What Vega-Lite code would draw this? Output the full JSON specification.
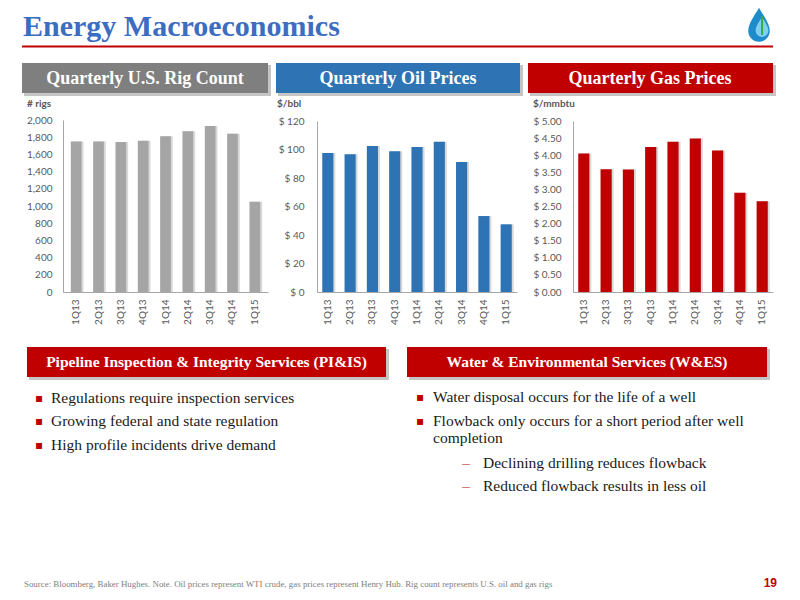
{
  "$schema": "https://vega.github.io/schema/vega-lite/v6.json",
  "width": 800,
  "height": 600,
  "autosize": {"type": "none"},
  "padding": 0,
  "background": "white",
  "config": {
    "view": {"stroke": null},
    "axis": {
      "labelFont": "Lato",
      "labelFontSize": 10,
      "labelColor": "#595959",
      "domainColor": "#A6A6A6",
      "domainWidth": 1,
      "ticks": false,
      "grid": false,
      "title": null
    }
  },
  "datasets": {
    "q": [
      {"quarter": "1Q13", "rigs": 1750, "oil": 97.5, "gas": 4.05},
      {"quarter": "2Q13", "rigs": 1750, "oil": 96.6, "gas": 3.59},
      {"quarter": "3Q13", "rigs": 1745, "oil": 102.5, "gas": 3.58},
      {"quarter": "4Q13", "rigs": 1760, "oil": 98.7, "gas": 4.24},
      {"quarter": "1Q14", "rigs": 1810, "oil": 101.8, "gas": 4.39},
      {"quarter": "2Q14", "rigs": 1870, "oil": 105.5, "gas": 4.49},
      {"quarter": "3Q14", "rigs": 1930, "oil": 91.2, "gas": 4.14},
      {"quarter": "4Q14", "rigs": 1840, "oil": 53.3, "gas": 2.90},
      {"quarter": "1Q15", "rigs": 1050, "oil": 47.5, "gas": 2.65}
    ]
  },
  "data": {"values": [{}]},
  "layer": [
    {
      "mark": {"type": "text", "font": "Liberation Serif", "fontSize": 30, "fontWeight": "bold", "fill": "#3D6DC0", "align": "left", "baseline": "alphabetic"},
      "encoding": {"x": {"value": 23}, "y": {"value": 36}, "text": {"value": "Energy Macroeconomics"}}
    },
    {
      "mark": {"type": "rule", "stroke": "#C00000", "strokeWidth": 2},
      "encoding": {"x": {"value": 22}, "x2": {"value": 773}, "y": {"value": 46.5}}
    },
    {
      "mark": {"type": "point", "shape": "M0,-1 C0.25,-0.55 0.62,-0.1 0.62,0.35 A0.62,0.62 0 1 1 -0.62,0.35 C-0.62,-0.1 -0.25,-0.55 0,-1 Z", "filled": true, "fill": "#1E8CCB", "opacity": 1, "size": 1200},
      "encoding": {"x": {"value": 759}, "y": {"value": 25}}
    },
    {
      "mark": {"type": "point", "shape": "M0,-1 C0.25,-0.55 0.62,-0.1 0.62,0.35 A0.62,0.62 0 1 1 -0.62,0.35 C-0.62,-0.1 -0.25,-0.55 0,-1 Z", "filled": true, "fill": "#7FD0EE", "opacity": 1, "size": 420},
      "encoding": {"x": {"value": 762}, "y": {"value": 27}}
    },
    {
      "mark": {"type": "rule", "stroke": "#3BAA4A", "strokeWidth": 2},
      "encoding": {"x": {"value": 762}, "y": {"value": 16}, "y2": {"value": 35}}
    },

    {"mark": {"type": "rect", "fill": "#9E9E9E", "opacity": 0.6}, "encoding": {"x": {"value": 24}, "x2": {"value": 271}, "y": {"value": 65}, "y2": {"value": 96}}},
    {"mark": {"type": "rect", "fill": "#7F7F7F"}, "encoding": {"x": {"value": 22}, "x2": {"value": 268}, "y": {"value": 63}, "y2": {"value": 93}}},
    {"mark": {"type": "text", "font": "Liberation Serif", "fontSize": 18, "fontWeight": "bold", "fill": "white", "align": "center", "baseline": "alphabetic"}, "encoding": {"x": {"value": 145}, "y": {"value": 84}, "text": {"value": "Quarterly U.S. Rig Count"}}},

    {"mark": {"type": "rect", "fill": "#9E9E9E", "opacity": 0.6}, "encoding": {"x": {"value": 278}, "x2": {"value": 523}, "y": {"value": 65}, "y2": {"value": 96}}},
    {"mark": {"type": "rect", "fill": "#2E74B5"}, "encoding": {"x": {"value": 276}, "x2": {"value": 520}, "y": {"value": 63}, "y2": {"value": 93}}},
    {"mark": {"type": "text", "font": "Liberation Serif", "fontSize": 18, "fontWeight": "bold", "fill": "white", "align": "center", "baseline": "alphabetic"}, "encoding": {"x": {"value": 398}, "y": {"value": 84}, "text": {"value": "Quarterly Oil Prices"}}},

    {"mark": {"type": "rect", "fill": "#9E9E9E", "opacity": 0.6}, "encoding": {"x": {"value": 530}, "x2": {"value": 776}, "y": {"value": 65}, "y2": {"value": 96}}},
    {"mark": {"type": "rect", "fill": "#C00000"}, "encoding": {"x": {"value": 528}, "x2": {"value": 773}, "y": {"value": 63}, "y2": {"value": 93}}},
    {"mark": {"type": "text", "font": "Liberation Serif", "fontSize": 18, "fontWeight": "bold", "fill": "white", "align": "center", "baseline": "alphabetic"}, "encoding": {"x": {"value": 650}, "y": {"value": 84}, "text": {"value": "Quarterly Gas Prices"}}},

    {"mark": {"type": "text", "font": "Lato", "fontSize": 10, "fontWeight": "bold", "fill": "#595959", "align": "left", "baseline": "middle"}, "encoding": {"x": {"value": 27}, "y": {"value": 104}, "text": {"value": "# rigs"}}},
    {"mark": {"type": "text", "font": "Lato", "fontSize": 10, "fontWeight": "bold", "fill": "#595959", "align": "left", "baseline": "middle"}, "encoding": {"x": {"value": 277}, "y": {"value": 104}, "text": {"value": "$/bbl"}}},
    {"mark": {"type": "text", "font": "Lato", "fontSize": 10, "fontWeight": "bold", "fill": "#595959", "align": "left", "baseline": "middle"}, "encoding": {"x": {"value": 533}, "y": {"value": 104}, "text": {"value": "$/mmbtu"}}},

    {
      "data": {"name": "q"},
      "encoding": {
        "x": {"field": "quarter", "type": "ordinal", "sort": null,
              "scale": {"range": [63, 268], "paddingInner": 0.52, "paddingOuter": 0.35},
              "axis": {"orient": "bottom", "offset": -308, "labelAngle": 270, "labelPadding": 7}},
        "y": {"field": "rigs", "type": "quantitative",
              "scale": {"domain": [0, 2000], "range": [292, 120], "nice": false, "zero": true},
              "axis": {"orient": "left", "offset": -63, "values": [0, 200, 400, 600, 800, 1000, 1200, 1400, 1600, 1800, 2000], "format": ",d", "labelPadding": 11}}
      },
      "layer": [
        {"mark": {"type": "bar", "color": "#000000", "opacity": 0.15, "xOffset": 2}},
        {"mark": {"type": "bar", "color": "#A5A5A5"}}
      ]
    },
    {
      "data": {"name": "q"},
      "encoding": {
        "x": {"field": "quarter", "type": "ordinal", "sort": null,
              "scale": {"range": [317, 517], "paddingInner": 0.5, "paddingOuter": 0.235},
              "axis": {"orient": "bottom", "offset": -308, "labelAngle": 270, "labelPadding": 7}},
        "y": {"field": "oil", "type": "quantitative",
              "scale": {"domain": [0, 120], "range": [292, 121], "nice": false, "zero": true},
              "axis": {"orient": "left", "offset": -317, "values": [0, 20, 40, 60, 80, 100, 120], "labelExpr": "'$ ' + datum.value", "labelPadding": 13}}
      },
      "layer": [
        {"mark": {"type": "bar", "color": "#000000", "opacity": 0.15, "xOffset": 2}},
        {"mark": {"type": "bar", "color": "#2E74B5"}}
      ]
    },
    {
      "data": {"name": "q"},
      "encoding": {
        "x": {"field": "quarter", "type": "ordinal", "sort": null,
              "scale": {"range": [573, 773], "paddingInner": 0.5, "paddingOuter": 0.235},
              "axis": {"orient": "bottom", "offset": -308, "labelAngle": 270, "labelPadding": 7}},
        "y": {"field": "gas", "type": "quantitative",
              "scale": {"domain": [0, 5], "range": [292, 121], "nice": false, "zero": true},
              "axis": {"orient": "left", "offset": -573, "values": [0, 0.5, 1, 1.5, 2, 2.5, 3, 3.5, 4, 4.5, 5], "labelExpr": "'$ ' + format(datum.value, '.2f')", "labelPadding": 12}}
      },
      "layer": [
        {"mark": {"type": "bar", "color": "#000000", "opacity": 0.15, "xOffset": 2}},
        {"mark": {"type": "bar", "color": "#C00000"}}
      ]
    },

    {"mark": {"type": "rect", "fill": "#9E9E9E", "opacity": 0.6}, "encoding": {"x": {"value": 29}, "x2": {"value": 389}, "y": {"value": 349}, "y2": {"value": 380}}},
    {"mark": {"type": "rect", "fill": "#C00000"}, "encoding": {"x": {"value": 27}, "x2": {"value": 386}, "y": {"value": 347}, "y2": {"value": 377}}},
    {"mark": {"type": "text", "font": "Liberation Serif", "fontSize": 15.5, "fontWeight": "bold", "fill": "white", "align": "center", "baseline": "alphabetic"}, "encoding": {"x": {"value": 206.5}, "y": {"value": 367}, "text": {"value": "Pipeline Inspection & Integrity Services (PI&IS)"}}},

    {"mark": {"type": "rect", "fill": "#9E9E9E", "opacity": 0.6}, "encoding": {"x": {"value": 409}, "x2": {"value": 770}, "y": {"value": 349}, "y2": {"value": 380}}},
    {"mark": {"type": "rect", "fill": "#C00000"}, "encoding": {"x": {"value": 407}, "x2": {"value": 767}, "y": {"value": 347}, "y2": {"value": 377}}},
    {"mark": {"type": "text", "font": "Liberation Serif", "fontSize": 15.5, "fontWeight": "bold", "fill": "white", "align": "center", "baseline": "alphabetic"}, "encoding": {"x": {"value": 587}, "y": {"value": 367}, "text": {"value": "Water & Environmental Services (W&ES)"}}},

    {"mark": {"type": "text", "font": "DejaVu Sans", "fontSize": 12, "fill": "#C00000", "align": "center", "baseline": "alphabetic", "lineHeight": 23.3},
     "encoding": {"x": {"value": 39}, "y": {"value": 402}, "text": {"value": ["▪", "▪", "▪"]}}},
    {"mark": {"type": "text", "font": "Liberation Serif", "fontSize": 15.5, "fill": "#1A1A1A", "align": "left", "baseline": "alphabetic", "lineHeight": 23.3},
     "encoding": {"x": {"value": 51}, "y": {"value": 403}, "text": {"value": ["Regulations require inspection services", "Growing federal and state regulation", "High profile incidents drive demand"]}}},

    {"mark": {"type": "text", "font": "DejaVu Sans", "fontSize": 12, "fill": "#C00000", "align": "center", "baseline": "alphabetic", "lineHeight": 23.5},
     "encoding": {"x": {"value": 420}, "y": {"value": 401}, "text": {"value": ["▪", "▪"]}}},
    {"mark": {"type": "text", "font": "Liberation Serif", "fontSize": 15.5, "fill": "#1A1A1A", "align": "left", "baseline": "alphabetic"},
     "encoding": {"x": {"value": 433}, "y": {"value": 402}, "text": {"value": "Water disposal occurs for the life of a well"}}},
    {"mark": {"type": "text", "font": "Liberation Serif", "fontSize": 15.5, "fill": "#1A1A1A", "align": "left", "baseline": "alphabetic", "lineHeight": 17.5},
     "encoding": {"x": {"value": 433}, "y": {"value": 425.5}, "text": {"value": ["Flowback only occurs for a short period after well", "completion"]}}},
    {"mark": {"type": "text", "font": "Liberation Serif", "fontSize": 15.5, "fill": "#C00000", "align": "center", "baseline": "alphabetic", "lineHeight": 23.4},
     "encoding": {"x": {"value": 466}, "y": {"value": 468}, "text": {"value": ["–", "–"]}}},
    {"mark": {"type": "text", "font": "Liberation Serif", "fontSize": 15.5, "fill": "#1A1A1A", "align": "left", "baseline": "alphabetic", "lineHeight": 23.4},
     "encoding": {"x": {"value": 483}, "y": {"value": 468}, "text": {"value": ["Declining drilling reduces flowback", "Reduced flowback results in less oil"]}}},

    {"mark": {"type": "text", "font": "Liberation Serif", "fontSize": 8.9, "fill": "#808080", "align": "left", "baseline": "alphabetic"},
     "encoding": {"x": {"value": 24}, "y": {"value": 587}, "text": {"value": "Source: Bloomberg, Baker Hughes. Note. Oil prices represent WTI crude, gas prices represent Henry Hub. Rig count represents U.S. oil and gas rigs"}}},
    {"mark": {"type": "text", "font": "Liberation Sans", "fontSize": 12, "fontWeight": "bold", "fill": "#C00000", "align": "right", "baseline": "alphabetic"},
     "encoding": {"x": {"value": 777}, "y": {"value": 587}, "text": {"value": "19"}}}
  ],
  "resolve": {
    "scale": {"x": "independent", "y": "independent"},
    "axis": {"x": "independent", "y": "independent"}
  }
}
